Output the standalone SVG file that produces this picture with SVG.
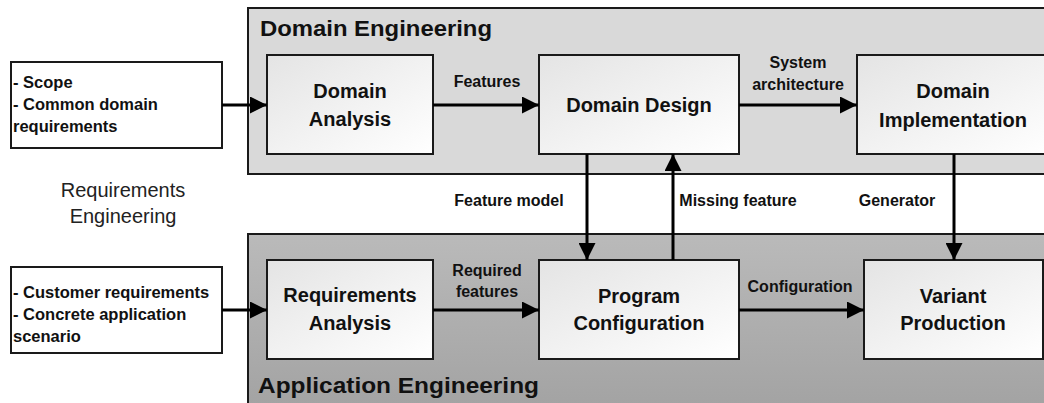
<svg xmlns="http://www.w3.org/2000/svg" width="1044" height="403" viewBox="0 0 1044 403">
<defs>
<linearGradient id="nodeGrad" x1="0" y1="0" x2="1" y2="1">
<stop offset="0" stop-color="#e4e4e4"/>
<stop offset="1" stop-color="#ffffff"/>
</linearGradient>
<linearGradient id="appGrad" x1="0" y1="0" x2="0" y2="1">
<stop offset="0" stop-color="#bababa"/>
<stop offset="1" stop-color="#a2a2a2"/>
</linearGradient>
<marker id="arrow" markerUnits="userSpaceOnUse" markerWidth="17" markerHeight="17" refX="17" refY="8.5" orient="auto">
<path d="M0,0 L17,8.5 L0,17 z" fill="#000"/>
</marker>
<style>
.node rect{fill:url(#nodeGrad);stroke:#1a1a1a;stroke-width:2}
.input rect{fill:#fff;stroke:#1a1a1a;stroke-width:2}
.nt{font-family:"Liberation Sans",Arial,sans-serif;font-weight:bold;font-size:20px;fill:#111;text-anchor:middle}
.it{font-family:"Liberation Sans",Arial,sans-serif;font-weight:bold;font-size:16.5px;fill:#111}
.lb{font-family:"Liberation Sans",Arial,sans-serif;font-weight:bold;font-size:16px;fill:#111;text-anchor:middle}
.title{font-family:"Liberation Sans",Arial,sans-serif;font-weight:bold;font-size:22px;fill:#111}
.reg{font-family:"Liberation Sans",Arial,sans-serif;font-size:20px;fill:#222;text-anchor:middle}
.conn line{stroke:#000;stroke-width:3;marker-end:url(#arrow)}
</style>
</defs>
<rect width="1044" height="403" fill="#fff"/>

<g id="domain-engineering">
<rect x="248" y="8" width="810" height="166" fill="#d9d9d9" stroke="#1a1a1a" stroke-width="2"/>
<text class="title" x="260" y="36" textLength="232" lengthAdjust="spacingAndGlyphs">Domain Engineering</text>
</g>
<g id="application-engineering">
<rect x="248" y="234" width="810" height="180" fill="url(#appGrad)" stroke="#1a1a1a" stroke-width="2"/>
<text class="title" x="258" y="393" textLength="281" lengthAdjust="spacingAndGlyphs">Application Engineering</text>
</g>

<g id="input-domain" class="input">
<rect x="11" y="62" width="211" height="86"/>
<text class="it" x="13" y="88">- Scope</text>
<text class="it" x="13" y="110">- Common domain</text>
<text class="it" x="13" y="132">requirements</text>
</g>
<g id="input-application" class="input">
<rect x="11" y="267" width="211" height="86"/>
<text class="it" x="13" y="298">- Customer requirements</text>
<text class="it" x="13" y="320">- Concrete application</text>
<text class="it" x="13" y="342">scenario</text>
</g>

<g id="requirements-engineering">
<text class="reg" x="123" y="197">Requirements</text>
<text class="reg" x="123" y="223">Engineering</text>
</g>

<g id="domain-analysis" class="node">
<rect x="267" y="55" width="166" height="99"/>
<text class="nt" x="350" y="98">Domain</text>
<text class="nt" x="350" y="126">Analysis</text>
</g>
<g id="domain-design" class="node">
<rect x="539" y="55" width="200" height="99"/>
<text class="nt" x="639" y="112">Domain Design</text>
</g>
<g id="domain-implementation" class="node">
<rect x="857" y="55" width="194" height="99"/>
<text class="nt" x="953" y="98">Domain</text>
<text class="nt" x="953" y="127">Implementation</text>
</g>
<g id="requirements-analysis" class="node">
<rect x="267" y="260" width="166" height="99"/>
<text class="nt" x="350" y="302">Requirements</text>
<text class="nt" x="350" y="330">Analysis</text>
</g>
<g id="program-configuration" class="node">
<rect x="539" y="260" width="200" height="99"/>
<text class="nt" x="639" y="303">Program</text>
<text class="nt" x="639" y="330">Configuration</text>
</g>
<g id="variant-production" class="node">
<rect x="864" y="260" width="179" height="99"/>
<text class="nt" x="953" y="303">Variant</text>
<text class="nt" x="953" y="330">Production</text>
</g>

<g id="connectors" class="conn">
<line x1="222" y1="105" x2="267" y2="105"/>
<line x1="433" y1="105" x2="539" y2="105"/>
<line x1="739" y1="105" x2="857" y2="105"/>
<line x1="222" y1="310" x2="267" y2="310"/>
<line x1="433" y1="310" x2="539" y2="310"/>
<line x1="739" y1="310" x2="864" y2="310"/>
<line x1="587" y1="154" x2="587" y2="260"/>
<line x1="673" y1="260" x2="673" y2="154"/>
<line x1="954" y1="154" x2="954" y2="260"/>
</g>

<g id="connector-labels">
<text class="lb" x="487" y="87">Features</text>
<text class="lb" x="798" y="68">System</text>
<text class="lb" x="798" y="90">architecture</text>
<text class="lb" x="487" y="276">Required</text>
<text class="lb" x="487" y="297">features</text>
<text class="lb" x="800" y="292">Configuration</text>
<text class="lb" x="509" y="206">Feature model</text>
<text class="lb" x="738" y="206">Missing feature</text>
<text class="lb" x="897" y="206">Generator</text>
</g>
</svg>
